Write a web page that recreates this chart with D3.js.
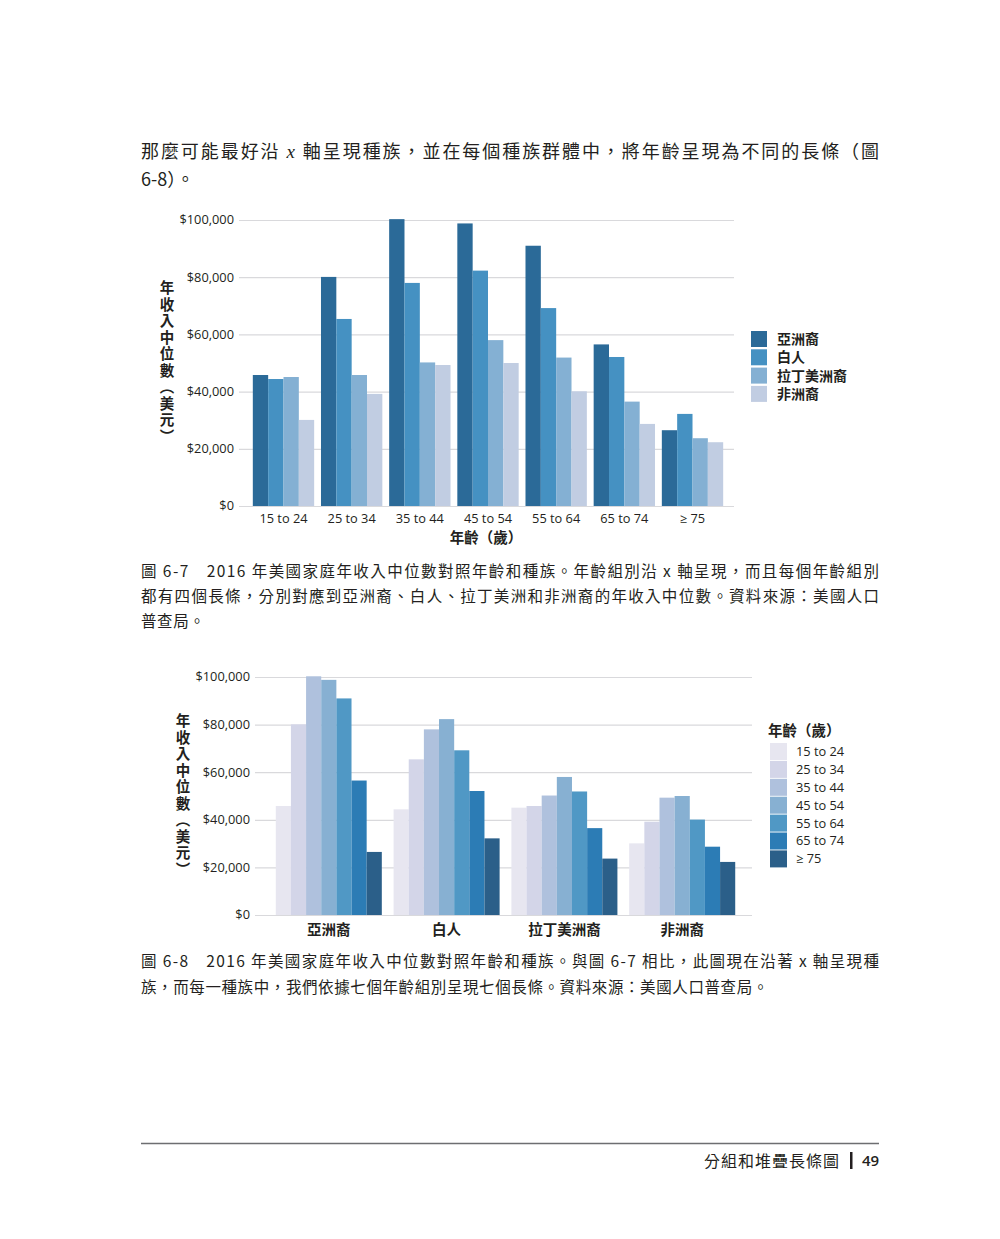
<!DOCTYPE html>
<html>
<head>
<meta charset="utf-8">
<script src="https://cdn.jsdelivr.net/npm/d3@7"></script>
<style>
  body { margin: 0; background: #fff; }
  svg { display: block; }
  .tick-label { font-family: "Open Sans", "Noto Sans", sans-serif; font-size: 12.8px; fill: #231f20; }
  .cjk-bold { font-family: "Noto Sans CJK TC", sans-serif; font-weight: 700; fill: #231f20; }
  .body-text { font-family: "Noto Sans CJK TC", serif; font-weight: 400; font-size: 18px; fill: #231f20; }
  .caption { font-family: "Noto Sans CJK TC", sans-serif; font-weight: 400; font-size: 15.5px; fill: #231f20; }
</style>
</head>
<body>
<svg id="page" width="1000" height="1239"></svg>
<script>
// median household income, 2016 (US Census)
const ageGroups = ["15 to 24", "25 to 34", "35 to 44", "45 to 54", "55 to 64", "65 to 74", "≥ 75"];
const races = ["亞洲裔", "白人", "拉丁美洲裔", "非洲裔"];
const asianIncome    = [45800, 80100, 100300, 98800, 91000, 56500, 26500];
const whiteIncome    = [44400, 65400, 78000, 82300, 69200, 52100, 32200];
const hispanicIncome = [45100, 45800, 50200, 58000, 51900, 36500, 23700];
const blackIncome    = [30100, 39200, 49300, 50000, 40100, 28700, 22300];
const yTicks = [0, 20000, 40000, 60000, 80000, 100000];

const raceColors = ["#2b6a98", "#4591c2", "#84b0d3", "#c1cde2"];
const ageColors = ["#e7e6f0", "#d3d5e8", "#afc1dd", "#87b0d2", "#5098c5", "#2c7cb5", "#2b5f89"];

const incomeByRace = [asianIncome, whiteIncome, hispanicIncome, blackIncome];
const rows = [];
races.forEach((r, ri) => {
  ageGroups.forEach((a, ai) => rows.push({ race: r, age: a, value: incomeByRace[ri][ai] }));
});

const svg = d3.select("#page");
const fmt = d3.format("$,");

function groupedBars(opt) {
  const g = svg.append("g");
  const y = d3.scaleLinear().domain([0, 100000]).range([opt.bottom, opt.top]);
  const x0 = d3.scaleBand().domain(opt.outer).range(opt.xRange).paddingInner(0.1).paddingOuter(0.1);
  const x1 = d3.scaleBand().domain(opt.inner).range([0, x0.bandwidth()]);
  const color = d3.scaleOrdinal().domain(opt.inner).range(opt.colors);

  // gridlines
  g.selectAll("line.grid")
    .data(yTicks)
    .join("line")
    .attr("x1", opt.gridX[0]).attr("x2", opt.gridX[1])
    .attr("y1", d => y(d) + 0.5).attr("y2", d => y(d) + 0.5)
    .attr("stroke", "#d9d9dc").attr("stroke-width", 1.2);

  g.selectAll("text.ytick")
    .data(yTicks)
    .join("text")
    .attr("class", "tick-label")
    .attr("x", opt.tickX)
    .attr("y", d => y(d))
    .attr("dy", "0.35em")
    .attr("text-anchor", "end")
    .text(d => fmt(d));

  const groups = g.selectAll("g.grp")
    .data(opt.outer)
    .join("g")
    .attr("transform", d => `translate(${x0(d)},0)`);

  groups.selectAll("rect")
    .data(o => rows.filter(r => r[opt.outerKey] === o))
    .join("rect")
    .attr("x", d => x1(d[opt.innerKey]))
    .attr("width", x1.bandwidth())
    .attr("y", d => y(d.value))
    .attr("height", d => y(0) - y(d.value))
    .attr("fill", d => color(d[opt.innerKey]));

  // x labels
  g.selectAll("text.xlab")
    .data(opt.outer)
    .join("text")
    .attr("class", opt.xLabelClass)
    .style("font-size", opt.xLabelSize)
    .attr("x", d => x0(d) + x0.bandwidth() / 2)
    .attr("y", opt.xLabelY)
    .attr("dy", "0.35em")
    .attr("text-anchor", "middle")
    .text(d => d);

  // y axis title, vertical writing
  g.append("text")
    .attr("class", "cjk-bold")
    .attr("x", opt.yTitleX)
    .attr("y", (opt.top + opt.bottom) / 2)
    .attr("text-anchor", "middle")
    .style("writing-mode", "vertical-rl")
    .style("font-size", "14.5px")
    .style("letter-spacing", "2px")
    .text("年收入中位數（美元）");

  // legend
  const lg = g.append("g");
  if (opt.legendTitle) {
    lg.append("text")
      .attr("class", "cjk-bold")
      .style("font-size", "14.5px")
      .attr("x", opt.legendTitleX)
      .attr("y", opt.legendTitleY)
      .attr("dy", "0.35em")
      .text(opt.legendTitle);
  }
  const item = lg.selectAll("g.item")
    .data(opt.inner)
    .join("g")
    .attr("transform", (d, i) => `translate(${opt.legendX},${opt.legendY + i * opt.legendStep})`);
  item.append("rect")
    .attr("width", opt.swatch).attr("height", opt.swatch)
    .attr("fill", d => color(d));
  item.append("text")
    .attr("class", opt.legendClass)
    .style("font-size", opt.legendSize)
    .attr("x", opt.legendTextDx)
    .attr("y", opt.swatch / 2)
    .attr("dy", "0.35em")
    .text(d => d);

  return g;
}

// figure 6-7: age along x, race as bars
groupedBars({
  outer: ageGroups, inner: races, outerKey: "age", innerKey: "race",
  colors: raceColors,
  top: 220, bottom: 506, xRange: [246, 730], gridX: [239, 734], tickX: 234,
  xLabelClass: "tick-label", xLabelSize: "12.8px", xLabelY: 519,
  yTitleX: 167,
  legendX: 751, legendY: 331, legendStep: 18.3, swatch: 16, legendTextDx: 26,
  legendClass: "cjk-bold", legendSize: "14px"
});
svg.append("text")
  .attr("class", "cjk-bold")
  .style("font-size", "14.5px")
  .attr("x", 486).attr("y", 538).attr("dy", "0.35em")
  .attr("text-anchor", "middle")
  .text("年齡（歲）");

// figure 6-8: race along x, age as bars
groupedBars({
  outer: races, inner: ageGroups, outerKey: "race", innerKey: "age",
  colors: ageColors,
  top: 677, bottom: 915, xRange: [264, 747], gridX: [255, 752], tickX: 250,
  xLabelClass: "cjk-bold", xLabelSize: "14.5px", xLabelY: 930,
  yTitleX: 183,
  legendTitle: "年齡（歲）", legendTitleX: 768, legendTitleY: 731,
  legendX: 770, legendY: 743, legendStep: 17.9, swatch: 17, legendTextDx: 26,
  legendClass: "tick-label", legendSize: "12.8px"
});

// running text
const p1 = svg.append("text").attr("class", "body-text")
  .attr("x", 141).attr("y", 152).attr("dy", "0.35em")
  .attr("textLength", 738).attr("lengthAdjust", "spacing");
p1.append("tspan").text("那麼可能最好沿 ");
p1.append("tspan").style("font-family", "'Liberation Serif'").style("font-style", "italic").style("font-size", "19px").text("x");
p1.append("tspan").text(" 軸呈現種族，並在每個種族群體中，將年齡呈現為不同的長條（圖");
svg.append("text").attr("class", "body-text")
  .attr("x", 141).attr("y", 180).attr("dy", "0.35em")
  .text("6-8）。");

const captions = [
  { y: 572, full: true, t: "圖 6-7　2016 年美國家庭年收入中位數對照年齡和種族。年齡組別沿 x 軸呈現，而且每個年齡組別" },
  { y: 597, full: true, t: "都有四個長條，分別對應到亞洲裔、白人、拉丁美洲和非洲裔的年收入中位數。資料來源：美國人口" },
  { y: 622, full: false, t: "普查局。" },
  { y: 962, full: true, t: "圖 6-8　2016 年美國家庭年收入中位數對照年齡和種族。與圖 6-7 相比，此圖現在沿著 x 軸呈現種" },
  { y: 988, full: false, t: "族，而每一種族中，我們依據七個年齡組別呈現七個長條。資料來源：美國人口普查局。" }
];
captions.forEach(c => {
  const t = svg.append("text").attr("class", "caption")
    .attr("x", 141).attr("y", c.y).attr("dy", "0.35em")
    .text(c.t);
  if (c.full) t.attr("textLength", 738).attr("lengthAdjust", "spacing");
  else t.style("letter-spacing", "0.6px");
});

// footer
svg.append("line")
  .attr("x1", 141).attr("x2", 879).attr("y1", 1143.5).attr("y2", 1143.5)
  .attr("stroke", "#6d6e71").attr("stroke-width", 1.3);
svg.append("text").attr("class", "body-text")
  .style("font-size", "16px").style("letter-spacing", "1px")
  .attr("x", 840).attr("y", 1161).attr("dy", "0.35em").attr("text-anchor", "end")
  .text("分組和堆疊長條圖");
svg.append("rect").attr("x", 850).attr("y", 1152).attr("width", 2.5).attr("height", 17).attr("fill", "#231f20");
svg.append("text")
  .style("font-family", "'Open Sans'").style("font-weight", 600).style("font-size", "15px")
  .attr("fill", "#231f20")
  .attr("x", 862).attr("y", 1161).attr("dy", "0.35em")
  .text("49");
</script>
</body>
</html>
